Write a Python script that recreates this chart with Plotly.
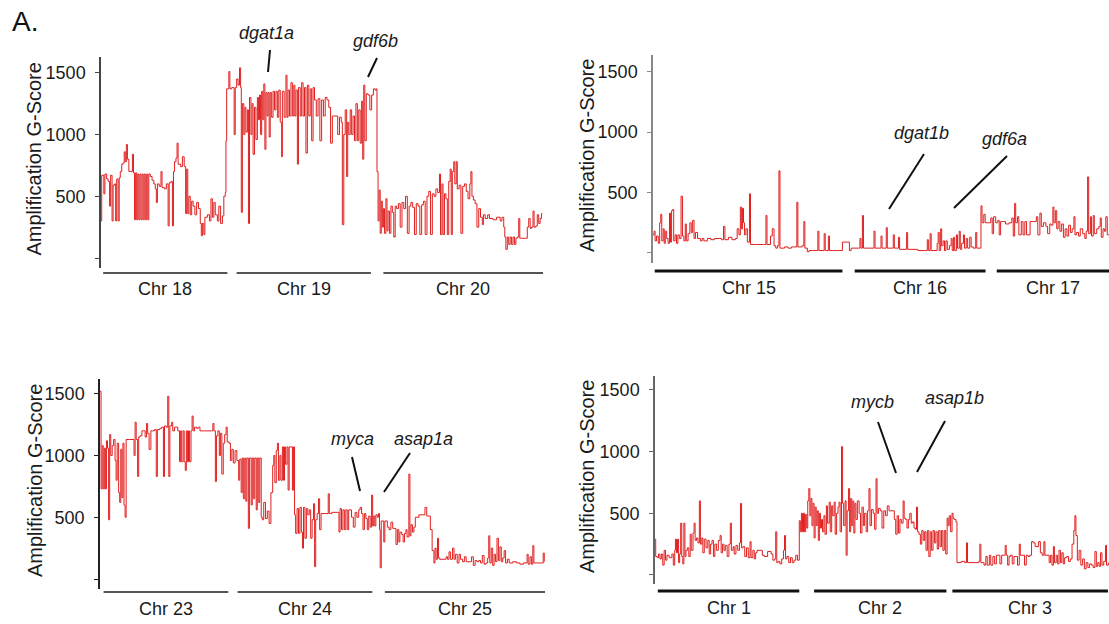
import plotly.graph_objects as go

# ---------------- data: (position, amplification G-score) step points ----------------
chr18 = [(282,300),(284,670),(290,520),(293,680),(298,640),(302,620),(306,420),(309,670),(313,300),(316,590),
         (320,600),(323,300),(326,640),(330,300),(333,650),(336,700),(340,760),(344,770),(347,860),(350,780),
         (353,920),(356,800),(360,700),(365,700),(370,840),(373,690),(376,310),(379,690),(382,310),(385,680),
         (388,310),(391,680),(394,310),(397,680),(400,310),(403,680),(406,310),(410,680),(413,310),(416,680),
         (420,660),(425,630),(430,600),(434,560),(437,450),(440,600),(445,580),(450,700),(453,570),(460,560),
         (465,600),(470,260),(473,610),(478,620),(482,260),(485,700),(488,780),(492,810),(495,930),(498,760),
         (505,740),(510,820),(515,740),(519,360),(522,720),(525,360),(528,500),(532,350),(536,460),(540,420),
         (545,350),(550,450),(555,400),(560,280),(563,180),(566,280),(570,190),(573,330),(580,350),(586,300),
         (590,480),(594,330),(598,450),(602,350),(608,300),(612,420),(617,280),(622,340),(626,500),(630,530)]
chr19 = [(632,950),(634,1370),(640,1510),(643,1370),(648,1380),(655,1000),(658,1380),(662,1450),(666,1400),
         (670,1540),(673,1380),(675,370),(678,1250),(682,1000),(685,1220),(688,1020),(692,1200),(695,280),
         (698,1300),(702,1000),(705,1250),(708,840),(712,1220),(716,960),(720,1300),(723,1120),(726,1320),
         (729,1000),(732,1350),(735,1120),(738,1410),(741,880),(744,1340),(747,1150),(750,1340),(753,980),
         (756,1340),(760,1140),(764,1350),(768,1200),(772,1350),(776,1140),(780,1360),(784,1100),(788,820),
         (790,1350),(795,1140),(800,1480),(803,1140),(806,1360),(810,1150),(814,1420),(818,1150),(822,1400),
         (825,1150),(828,1360),(832,760),(835,1380),(840,1150),(844,1420),(848,1150),(852,1380),(856,850),
         (860,1400),(864,1150),(868,1370),(872,950),(876,1380),(880,1280),(885,1150),(890,1290),(895,950),
         (900,1280),(905,1150),(910,1300),(915,1280),(920,1220),(925,930),(930,1150),(940,1150),(945,1000),
         (950,1140),(955,1100),(958,270),(962,1000),(966,1200),(970,660),(973,1100),(976,1000),(980,1200),
         (984,1000),(988,1150),(992,950),(996,1250),(1000,950),(1004,1200),(1008,930),(1012,1270),(1015,800),
         (1018,1400),(1021,950),(1025,1330),(1030,1320),(1035,1200),(1040,1320),(1045,1370),(1050,1360),
         (1053,1370)]
chr20 = [(1055,700),(1058,300),(1061,550),(1064,200),(1067,460),(1070,250),(1073,400),(1076,200),(1080,480),
         (1083,220),(1086,380),(1090,200),(1094,420),(1098,370),(1102,170),(1106,420),(1110,400),(1115,440),
         (1120,250),(1125,450),(1130,400),(1135,500),(1140,200),(1145,420),(1150,450),(1155,410),(1160,190),
         (1165,440),(1170,420),(1175,190),(1180,430),(1185,460),(1190,190),(1195,500),(1200,540),(1205,190),
         (1210,520),(1215,500),(1220,560),(1225,530),(1230,680),(1233,190),(1237,600),(1240,190),(1244,520),
         (1248,480),(1252,190),(1256,620),(1260,720),(1263,190),(1266,700),(1270,780),(1273,600),(1277,780),
         (1280,560),(1285,590),(1290,200),(1295,580),(1300,600),(1305,540),(1310,480),(1315,600),(1318,700),
         (1321,500),(1325,470),(1330,440),(1335,250),(1340,400),(1345,330),(1350,270),(1353,350),(1358,320),
         (1365,350),(1370,320),(1380,310),(1390,330),(1400,300),(1405,330),(1410,250),(1413,170),(1416,70),
         (1420,170),(1424,110),(1428,170),(1432,110),(1436,170),(1440,110),(1444,160),(1448,170),(1452,320),
         (1455,160),(1460,160),(1470,160),(1476,250),(1480,320),(1484,240),(1488,250),(1492,380),(1495,250),
         (1500,260),(1504,350),(1508,280),(1512,320),(1516,360),(1518,360)]

chr15 = [(265,150),(268,180),(271,100),(275,140),(280,80),(284,250),(287,320),(290,100),(294,200),(297,80),
         (300,180),(304,120),(308,80),(312,330),(315,90),(318,350),(321,360),(324,100),(328,150),(332,80),
         (336,150),(340,120),(345,470),(349,140),(353,100),(357,240),(360,100),(365,160),(370,250),(374,170),
         (378,270),(382,120),(386,170),(392,120),(400,100),(405,120),(410,100),(420,120),(430,110),(440,120),
         (460,110),(466,220),(470,110),(480,130),(490,110),(500,120),(505,200),(510,150),(514,380),(517,200),
         (520,370),(523,250),(526,150),(530,200),(534,90),(540,490),(543,70),(550,70),(560,70),(580,70),
         (587,310),(590,70),(600,140),(605,200),(610,60),(615,40),(620,60),(624,680),(627,40),(640,50),
         (650,40),(660,50),(675,420),(678,50),(690,60),(695,260),(698,40),(705,10),(710,20),(720,20),
         (735,180),(738,20),(750,20),(753,160),(756,20),(765,140),(768,20),(780,20),(790,20),(805,90),
         (810,90),(820,90),(825,20)]
chr16 = [(830,40),(850,40),(855,120),(858,40),(862,310),(865,40),(880,40),(895,180),(898,40),(915,140),
         (918,40),(930,210),(933,40),(945,40),(950,150),(953,40),(965,130),(968,30),(975,30),(988,170),
         (991,30),(1000,30),(1020,20),(1040,20),(1047,110),(1050,20),(1055,160),(1058,20),(1075,80),(1078,170),
         (1081,20),(1085,200),(1088,60),(1092,100),(1096,20),(1100,100),(1104,30),(1110,60),(1115,120),(1118,20),
         (1122,130),(1125,20),(1130,150),(1133,40),(1138,180),(1141,30),(1145,80),(1150,150),(1153,40),(1158,120),
         (1162,40),(1168,130),(1172,50),(1178,40),(1185,170),(1188,40),(1195,40)]
chr17 = [(1200,390),(1203,250),(1208,320),(1212,250),(1220,250),(1228,290),(1232,160),(1236,300),(1242,250),
         (1248,270),(1252,150),(1256,260),(1262,260),(1270,240),(1280,250),(1288,290),(1292,140),(1296,410),
         (1299,250),(1304,300),(1308,150),(1315,260),(1320,150),(1325,260),(1330,150),(1340,260),(1350,260),
         (1358,300),(1362,150),(1368,330),(1372,220),(1378,250),(1385,220),(1390,160),(1396,240),(1400,230),
         (1405,380),(1408,250),(1412,350),(1416,200),(1420,260),(1425,180),(1430,240),(1435,130),(1440,200),
         (1445,140),(1450,230),(1455,170),(1460,200),(1465,300),(1468,150),(1472,170),(1478,140),(1483,200),
         (1490,160),(1496,120),(1500,180),(1504,630),(1507,160),(1512,300),(1515,140),(1520,310),(1523,160),
         (1530,200),(1536,220),(1540,290),(1543,130),(1548,200),(1552,180),(1556,300),(1560,150),(1565,150)]

chr23 = [(278,1520),(281,730),(284,1080),(287,730),(290,1060),(293,730),(296,1120),(299,1060),(302,480),
         (305,1170),(308,1000),(312,1080),(316,1130),(320,960),(323,800),(326,1100),(330,700),(333,620),
         (336,1050),(339,660),(342,1100),(345,600),(348,500),(351,1130),(360,1130),(370,1130),(373,1000),
         (376,1270),(379,1130),(383,830),(386,1150),(390,1160),(395,1200),(400,1200),(404,1150),(408,1260),
         (411,1180),(415,1050),(420,1200),(425,1200),(430,1210),(435,830),(438,1210),(445,1220),(450,1230),
         (455,830),(458,1240),(463,1230),(467,1480),(470,830),(473,1240),(478,1270),(481,1200),(486,1230),
         (490,1230),(495,1200),(500,950),(503,1200),(506,950),(510,1200),(513,950),(516,880),(519,1200),
         (522,950),(525,1200),(528,950),(532,1200),(535,1320),(538,1200),(542,1230),(548,1220),(552,1230),
         (557,1200),(570,1200),(590,1200),(593,1260),(596,1200),(600,790),(603,1160),(607,1200),(611,1000),
         (614,1180),(618,850),(622,1100),(626,1170),(630,1230),(633,1110),(638,1100)]
chr24 = [(642,960),(646,1050),(650,940),(655,1040),(660,960),(665,800),(668,970),(672,700),(675,980),
         (678,650),(682,980),(685,630),(688,980),(692,410),(695,980),(700,600),(703,980),(707,650),(710,980),
         (714,560),(717,980),(721,620),(724,980),(728,500),(731,480),(735,620),(740,490),(745,550),(750,450),
         (755,700),(760,920),(763,1000),(766,780),(770,1040),(773,1100),(776,800),(780,1000),(783,800),
         (787,1070),(790,800),(793,1070),(796,930),(800,1070),(803,720),(806,1070),(815,720),(818,1070),
         (821,520),(824,370),(828,570),(832,370),(836,580),(840,380),(843,250),(846,580),(850,330),(854,570),
         (858,520),(862,560),(866,330),(870,480),(874,610),(877,100),(880,480),(884,530),(888,650),(891,400),
         (895,530),(915,690),(918,530),(925,540),(940,540),(945,380),(948,570),(952,400),(956,560),(960,400),
         (964,560),(968,400),(972,560),(980,500),(985,420),(990,540),(995,500),(1000,560),(1004,580),
         (1008,530),(1012,400),(1016,530),(1020,490),(1024,400),(1028,510),(1032,420),(1036,680),(1039,430),
         (1042,510),(1045,430),(1048,520),(1052,500),(1055,530),(1058,400)]
chr25 = [(1060,90),(1063,470),(1070,300),(1073,470),(1080,420),(1085,400),(1090,460),(1095,410),(1104,280),
         (1108,400),(1112,300),(1115,380),(1120,360),(1124,300),(1128,370),(1132,400),(1135,340),(1140,850),
         (1143,350),(1146,440),(1150,380),(1154,420),(1158,500),(1168,520),(1185,580),(1190,510),(1200,400),
         (1205,230),(1210,130),(1213,250),(1216,160),(1220,330),(1223,170),(1226,160),(1244,180),(1248,160),
         (1252,220),(1256,160),(1262,250),(1266,160),(1270,200),(1275,130),(1280,200),(1284,160),(1290,140),
         (1295,180),(1300,140),(1315,180),(1320,110),(1325,150),(1330,140),(1335,150),(1340,130),(1345,190),
         (1350,120),(1355,130),(1360,170),(1363,350),(1366,130),(1370,250),(1374,110),(1378,200),(1382,140),
         (1386,330),(1390,150),(1394,260),(1398,140),(1402,170),(1406,230),(1410,130),(1415,160),(1420,130),
         (1430,140),(1440,130),(1450,120),(1460,130),(1470,200),(1473,120),(1478,180),(1482,120),(1486,270),
         (1489,130),(1510,130),(1515,210),(1518,140)]

chr1 = [(270,290),(272,150),(276,140),(280,170),(284,130),(288,170),(292,80),(296,200),(300,120),(304,160),
        (310,140),(318,170),(322,80),(326,200),(328,290),(331,180),(334,290),(337,100),(340,170),(343,420),
        (346,150),(349,90),(352,420),(355,150),(358,200),(362,220),(366,150),(370,330),(373,200),(378,340),
        (381,420),(384,280),(388,300),(392,260),(396,600),(399,250),(403,300),(406,180),(410,290),(415,220),
        (420,280),(424,170),(428,250),(432,280),(436,150),(440,250),(445,200),(450,280),(455,320),(458,180),
        (462,250),(466,200),(470,240),(475,150),(480,250),(484,420),(487,200),(492,230),(495,170),(500,240),
        (505,200),(510,260),(513,580),(516,220),(520,230),(525,150),(530,220),(535,140),(540,270),(543,140),
        (548,200),(552,130),(556,180),(560,200),(575,160),(580,150),(590,190),(600,170),(605,120),(610,130),
        (613,350),(616,100),(620,110),(625,90),(630,130),(635,200),(638,320),(641,130),(645,150),(650,100),
        (655,140),(660,100),(665,120),(670,160),(675,120)]
chr2 = [(680,440),(683,350),(686,500),(689,350),(692,500),(695,350),(698,490),(701,380),(704,600),(707,700),
        (710,480),(713,620),(716,400),(719,580),(722,300),(725,550),(728,400),(731,520),(734,280),(737,500),
        (740,380),(743,450),(746,350),(750,480),(753,330),(757,560),(760,420),(765,590),(768,350),(772,560),
        (775,480),(779,590),(782,330),(786,500),(790,550),(793,590),(796,350),(800,1040),(803,580),(806,400),
        (810,600),(813,160),(816,520),(820,700),(823,350),(826,620),(829,400),(832,600),(835,340),(838,580),
        (841,450),(845,600),(850,500),(854,340),(858,550),(862,400),(865,500),(870,350),(874,520),(878,700),
        (881,400),(885,530),(890,500),(894,370),(898,780),(901,500),(905,540),(910,520),(915,380),(920,520),
        (925,480),(930,560),(935,520),(950,450),(954,330),(958,480),(962,340),(966,450),(970,420),(975,600),
        (978,460),(982,450),(986,380),(990,450),(994,500),(998,420),(1002,430),(1006,380),(1010,370),
        (1013,550),(1016,350),(1020,330),(1024,250),(1028,360),(1032,280),(1036,350),(1040,200),(1044,360),
        (1048,150),(1052,350),(1056,200),(1060,360),(1064,260),(1068,350),(1072,210),(1076,360),(1080,230),
        (1084,360),(1088,200),(1092,360),(1096,170)]
chr3 = [(1100,460),(1103,400),(1106,480),(1110,350),(1114,500),(1117,460),(1120,450),(1125,430),(1128,100),
        (1140,110),(1150,100),(1155,260),(1158,100),(1190,110),(1193,250),(1196,100),(1205,80),(1210,150),
        (1214,80),(1220,160),(1224,80),(1230,150),(1235,90),(1240,160),(1250,90),(1255,160),(1265,240),
        (1268,160),(1272,80),(1276,150),(1280,160),(1285,90),(1290,150),(1300,80),(1305,250),(1308,160),
        (1320,80),(1325,160),(1330,150),(1335,160),(1340,270),(1345,260),(1350,230),(1360,270),(1365,180),
        (1370,160),(1375,270),(1378,160),(1390,100),(1394,160),(1398,80),(1402,230),(1405,100),(1410,160),
        (1414,90),(1418,200),(1422,100),(1426,180),(1430,90),(1434,140),(1440,150),(1445,110),(1450,130),
        (1455,250),(1460,360),(1463,480),(1466,320),(1470,120),(1475,200),(1480,80),(1485,130),(1490,50),
        (1495,100),(1500,60),(1505,90),(1510,80),(1515,60),(1520,190),(1524,70),(1528,100),(1532,70),
        (1536,180),(1540,80),(1545,110),(1550,240),(1553,80),(1558,100)]

# chromosome label bars (start, end) in the same position units
tl_names, tl_bar_start, tl_bar_end = ["Chr 18", "Chr 19", "Chr 20"], [288, 662, 1073], [636, 1038, 1521]
tr_names, tr_bar_start, tr_bar_end = ["Chr 15", "Chr 16", "Chr 17"], [270, 840, 1245], [805, 1213, 1568]
bl_names, bl_bar_start, bl_bar_end = ["Chr 23", "Chr 24", "Chr 25"], [288, 662, 1073], [636, 1038, 1521]
br_names, br_bar_start, br_bar_end = ["Chr 1", "Chr 2", "Chr 3"], [278, 722, 1115], [680, 1098, 1557]

y_tickvals = [0, 500, 1000, 1500]
y_ticktext = ["", "500", "1000", "1500"]

W, H = 1109, 624
FONT = "Liberation Sans, Arial, sans-serif"
RED = "#e01f1f"

def px(x):
    return x / W

def py(y):
    return 1 - y / H

panels = [
    dict(ax="", chroms=[chr18, chr19, chr20], names=tl_names, bs=tl_bar_start, be=tl_bar_end,
         xdom=[101, 543], ydom=[57, 268], xr=[282, 1520], yr=[-81, 1628],
         axcol="#444", barcol="#555", barw=2, bary=273, laby=289, titlex=33),
    dict(ax="2", chroms=[chr15, chr16, chr17], names=tr_names, bs=tr_bar_start, be=tr_bar_end,
         xdom=[653, 1109], ydom=[55, 263], xr=[265, 1565], yr=[-83, 1639],
         axcol="#888", barcol="#111", barw=3, bary=271, laby=288, titlex=587),
    dict(ax="3", chroms=[chr23, chr24, chr25], names=bl_names, bs=bl_bar_start, be=bl_bar_end,
         xdom=[100, 545], ydom=[379, 589], xr=[278, 1520], yr=[-81, 1620],
         axcol="#222", barcol="#555", barw=2, bary=592, laby=609, titlex=35),
    dict(ax="4", chroms=[chr1, chr2, chr3], names=br_names, bs=br_bar_start, be=br_bar_end,
         xdom=[655, 1109], ydom=[376, 584], xr=[270, 1560], yr=[-73, 1612],
         axcol="#666", barcol="#111", barw=3, bary=591, laby=608, titlex=587),
]

fig = go.Figure()
shapes, annotations = [], []
layout = {}

for p in panels:
    a = p["ax"]
    xs, ys = [], []
    for c in p["chroms"]:
        xs += [pt[0] for pt in c]
        ys += [pt[1] for pt in c]
    fig.add_trace(go.Scatter(x=xs, y=ys, mode="lines", line=dict(color=RED, width=1, shape="hv"),
                             xaxis="x" + a, yaxis="y" + a, showlegend=False, hoverinfo="skip"))
    layout["xaxis" + a] = dict(domain=[px(p["xdom"][0]), px(p["xdom"][1])], range=p["xr"],
                               visible=False, anchor="y" + a, fixedrange=True)
    layout["yaxis" + a] = dict(domain=[py(p["ydom"][1]), py(p["ydom"][0])], range=p["yr"],
                               anchor="x" + a, showline=True, linecolor=p["axcol"], linewidth=1.5,
                               ticks="outside", ticklen=4, tickcolor=p["axcol"], tickwidth=1,
                               tickvals=y_tickvals, ticktext=y_ticktext, showgrid=False, zeroline=False,
                               tickfont=dict(family=FONT, size=18, color="#1a1a1a"),
                               ticklabelstandoff=6, fixedrange=True)
    for name, s, e in zip(p["names"], p["bs"], p["be"]):
        shapes.append(dict(type="line", xref="x" + a, yref="paper", x0=s, x1=e,
                           y0=py(p["bary"]), y1=py(p["bary"]),
                           line=dict(color=p["barcol"], width=p["barw"])))
        annotations.append(dict(text=name, xref="x" + a, yref="paper", x=(s + e) / 2, y=py(p["laby"]),
                                xanchor="center", yanchor="middle", showarrow=False,
                                font=dict(family=FONT, size=18, color="#1a1a1a")))
    annotations.append(dict(text="Amplification G-Score", xref="paper", yref="paper",
                            x=px(p["titlex"]), y=py((p["ydom"][0] + p["ydom"][1]) / 2 - 3),
                            textangle=-90, xanchor="center", yanchor="middle", showarrow=False,
                            font=dict(family=FONT, size=20, color="#1a1a1a")))

# gene annotations: label centre and pointer line (pixel positions)
genes = [
    ("dgat1a", 266, 33, 270, 50, 268, 72),
    ("gdf6b", 375, 41, 377, 58, 368, 77),
    ("dgat1b", 921, 133, 924, 154, 889, 209),
    ("gdf6a", 1004, 139, 1007, 156, 954, 208),
    ("myca", 352, 439, 352, 457, 360, 491),
    ("asap1a", 423, 439, 410, 453, 384, 492),
    ("mycb", 873, 402, 878, 422, 896, 473),
    ("asap1b", 954, 398, 945, 421, 917, 472),
]
for g, tx, ty, x0, y0, x1, y1 in genes:
    annotations.append(dict(text="<i>%s</i>" % g, xref="paper", yref="paper", x=px(tx), y=py(ty),
                            xanchor="center", yanchor="middle", showarrow=False,
                            font=dict(family=FONT, size=18, color="#1a1a1a")))
    shapes.append(dict(type="line", xref="paper", yref="paper", x0=px(x0), y0=py(y0), x1=px(x1), y1=py(y1),
                       line=dict(color="#111", width=2)))

annotations.append(dict(text="A.", xref="paper", yref="paper", x=px(10), y=py(22), xanchor="left",
                        yanchor="middle", showarrow=False, font=dict(family=FONT, size=28, color="#111")))

fig.update_layout(width=W, height=H, margin=dict(l=0, r=0, t=0, b=0), paper_bgcolor="white",
                  plot_bgcolor="white", shapes=shapes, annotations=annotations, **layout)

fig.write_html("out.html", config={"displayModeBar": False})
